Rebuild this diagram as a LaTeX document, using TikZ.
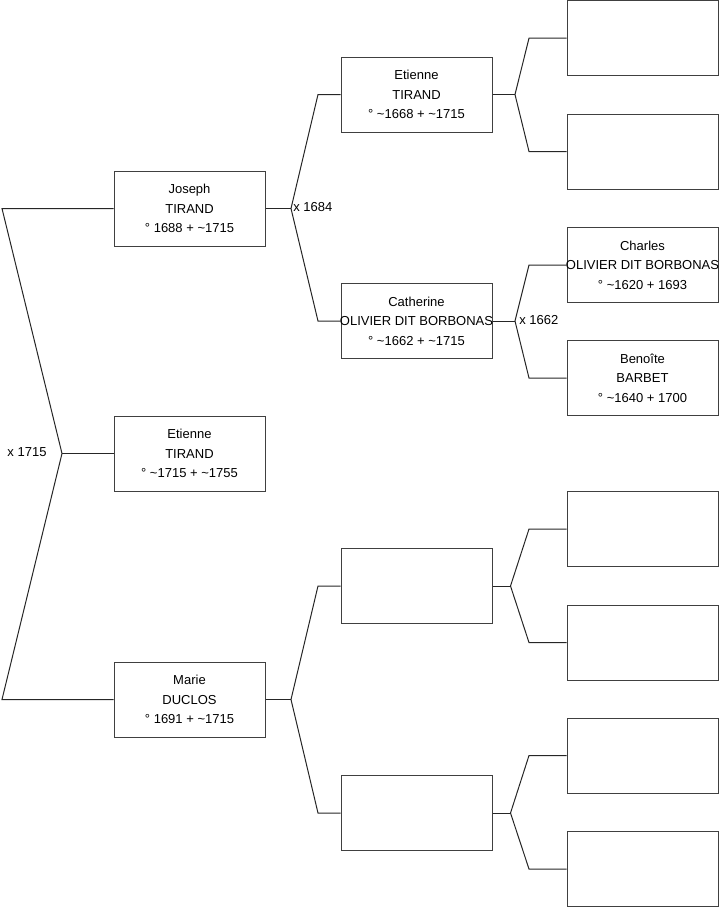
\documentclass[tikz,border=0pt]{standalone}
\usepackage{fontspec}
\setmainfont{Liberation Sans}
\begin{document}
\begin{tikzpicture}[x=0.75pt,y=-0.75pt,
  pbox/.style={draw=black!75, line width=0.75pt, minimum width=113.25pt, minimum height=56.25pt, inner sep=0pt, fill=white},
  ptext/.style={align=center, inner sep=0pt, font=\fontsize{9.75}{14.6}\selectfont},
  conn/.style={draw=black!85, line width=0.75pt},
  mlabel/.style={inner sep=0pt, font=\fontsize{9.75}{12}\selectfont}]
\useasboundingbox (0,0) rectangle (719,908);
% generation 1
\node[pbox, label={[ptext]center:Joseph\\TIRAND\\° 1688 + \textasciitilde1715}] (J) at (189.5,208.5) {};
\node[pbox, label={[ptext]center:Etienne\\TIRAND\\° \textasciitilde1715 + \textasciitilde1755}] (E) at (189.5,453.5) {};
\node[pbox, label={[ptext]center:Marie\\DUCLOS\\° 1691 + \textasciitilde1715}] (M) at (189.5,699.5) {};
% generation 2
\node[pbox, label={[ptext]center:Etienne\\TIRAND\\° \textasciitilde1668 + \textasciitilde1715}] (ET) at (416.5,94.5) {};
\node[pbox, label={[ptext]center:Catherine\\OLIVIER DIT BORBONAS\\° \textasciitilde1662 + \textasciitilde1715}] (C) at (416.5,321) {};
\node[pbox] (U1) at (416.5,586) {};
\node[pbox] (U2) at (416.5,813) {};
% generation 3
\node[pbox] (G1) at (642.5,38.2) {};
\node[pbox] (G2) at (642.5,151.5) {};
\node[pbox, label={[ptext]center:Charles\\OLIVIER DIT BORBONAS\\° \textasciitilde1620 + 1693}] (CH) at (642.5,265) {};
\node[pbox, label={[ptext]center:Benoîte\\BARBET\\° \textasciitilde1640 + 1700}] (B) at (642.5,378) {};
\node[pbox] (G5) at (642.5,529) {};
\node[pbox] (G6) at (642.5,642.5) {};
\node[pbox] (G7) at (642.5,755.5) {};
\node[pbox] (G8) at (642.5,869) {};
% root fork
\coordinate (f0) at (62,453.5);
\coordinate (c0a) at (2,208.5);
\coordinate (c0b) at (2,699.5);
\draw[conn] (J.west) -- (c0a) -- (f0) -- (c0b) -- (M.west);
\draw[conn] (f0) -- (E.west);
\node[mlabel, anchor=center] (x1715) at (27,452) {x 1715};
% Joseph's parents
\coordinate (f1) at (291,208.5);
\coordinate (c1a) at (318,94.5);
\coordinate (c1b) at (318,321);
\draw[conn] (J.east) -- (f1);
\draw[conn] (ET.west) -- (c1a) -- (f1) -- (c1b) -- (C.west);
\node[mlabel, anchor=west] (x1684) at (293,207) {x 1684};
% Marie's parents
\coordinate (f2) at (291,699.5);
\coordinate (c2a) at (318,586);
\coordinate (c2b) at (318,813);
\draw[conn] (M.east) -- (f2);
\draw[conn] (U1.west) -- (c2a) -- (f2) -- (c2b) -- (U2.west);
% Etienne's parents
\coordinate (f3) at (515,94.5);
\coordinate (c3a) at (529,38.2);
\coordinate (c3b) at (529,151.5);
\draw[conn] (ET.east) -- (f3);
\draw[conn] (G1.west) -- (c3a) -- (f3) -- (c3b) -- (G2.west);
% Catherine's parents
\coordinate (f4) at (515,321);
\coordinate (c4a) at (529,265);
\coordinate (c4b) at (529,378);
\draw[conn] (C.east) -- (f4);
\draw[conn] (CH.west) -- (c4a) -- (f4) -- (c4b) -- (B.west);
\node[mlabel, anchor=west] (x1662) at (519,320) {x 1662};
% U1's parents
\coordinate (f5) at (510.5,586);
\coordinate (c5a) at (529,529);
\coordinate (c5b) at (529,642.5);
\draw[conn] (U1.east) -- (f5);
\draw[conn] (G5.west) -- (c5a) -- (f5) -- (c5b) -- (G6.west);
% U2's parents
\coordinate (f6) at (510.5,813);
\coordinate (c6a) at (529,755.5);
\coordinate (c6b) at (529,869);
\draw[conn] (U2.east) -- (f6);
\draw[conn] (G7.west) -- (c6a) -- (f6) -- (c6b) -- (G8.west);
\end{tikzpicture}
\end{document}
